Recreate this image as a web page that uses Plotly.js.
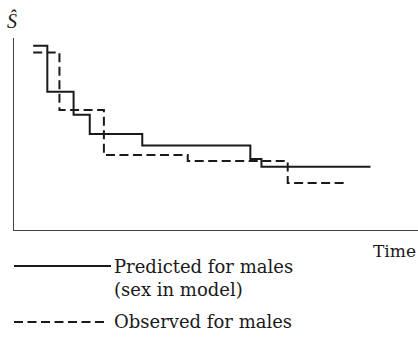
<!DOCTYPE html>
<html>
<head>
<meta charset="utf-8">
<script src="https://cdn.plot.ly/plotly-3.0.1.min.js"></script>
<style>html,body{margin:0;padding:0;background:#fff;}#chart{width:418px;height:354px;}</style>
</head>
<body>
<div id="chart"></div>
<script>
// Predicted (solid) step curve
const predTime = [1.9, 3.3, 5.9, 7.5, 12.7, 23.4, 24.5, 35.3];
const predS    = [0.96, 0.72, 0.60, 0.50, 0.44, 0.37, 0.33, 0.33];
// Observed (dashed) step curve
const obsTime = [1.9, 4.5, 8.9, 17.2, 27.1, 32.7];
const obsS    = [0.925, 0.625, 0.39, 0.36, 0.245, 0.245];

const seriesNames = ["Predicted for males<br>(sex in model)", "Observed for males"];
const axisLabels = {y: "<i>Ŝ</i>", x: "Time"};

const FONT = "DejaVu Serif";
const ink = "#1a1a1a";
const DASH = "9px,4.5px";

const traces = [
  {x: predTime, y: predS, mode: "lines", line: {shape: "hv", color: ink, width: 2}, showlegend: false, hoverinfo: "skip"},
  {x: obsTime, y: obsS, mode: "lines", line: {shape: "hv", color: ink, width: 2, dash: DASH}, showlegend: false, hoverinfo: "skip"}
];

function px2paperY(py){ return (230 - py) / 192; }
function px2paperX(px){ return (px - 14) / 404; }

const layout = {
  width: 418, height: 354,
  margin: {l: 14, r: 0, t: 38, b: 124},
  paper_bgcolor: "#fff", plot_bgcolor: "#fff",
  showlegend: false,
  xaxis: {range: [0, 40], showline: true, linecolor: "#444", linewidth: 1.3, showgrid: false, zeroline: false, ticks: "", showticklabels: false, fixedrange: true},
  yaxis: {range: [0, 1], showline: true, linecolor: "#444", linewidth: 1.3, showgrid: false, zeroline: false, ticks: "", showticklabels: false, fixedrange: true},
  shapes: [
    {type: "line", xref: "paper", yref: "paper", x0: px2paperX(14), x1: px2paperX(111), y0: px2paperY(266), y1: px2paperY(266), line: {color: ink, width: 2}},
    {type: "line", xref: "paper", yref: "paper", x0: px2paperX(14), x1: px2paperX(108), y0: px2paperY(322), y1: px2paperY(322), line: {color: ink, width: 2, dash: DASH}}
  ],
  annotations: [
    {text: axisLabels.y, xref: "paper", yref: "paper", x: px2paperX(12), y: px2paperY(21), showarrow: false, xanchor: "center", yanchor: "middle", font: {family: "Liberation Serif", size: 20, color: ink}},
    {text: axisLabels.x, xref: "paper", yref: "paper", x: px2paperX(418), y: px2paperY(251), showarrow: false, xanchor: "right", yanchor: "middle", font: {family: FONT, size: 17, color: ink}},
    {text: seriesNames[0], xref: "paper", yref: "paper", x: px2paperX(112), y: px2paperY(254), showarrow: false, xanchor: "left", yanchor: "top", align: "left", font: {family: FONT, size: 18, color: ink}},
    {text: seriesNames[1], xref: "paper", yref: "paper", x: px2paperX(112), y: px2paperY(321), showarrow: false, xanchor: "left", yanchor: "middle", align: "left", font: {family: FONT, size: 18, color: ink}}
  ]
};

Plotly.newPlot("chart", traces, layout, {displayModeBar: false, staticPlot: true});
</script>
</body>
</html>
